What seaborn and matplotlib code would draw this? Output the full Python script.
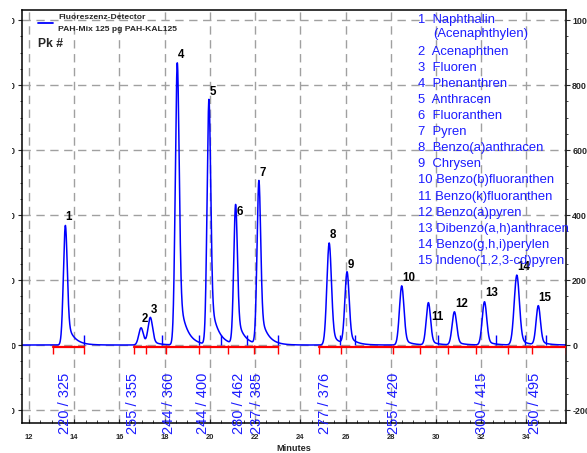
import numpy as np
import pandas as pd
import matplotlib
matplotlib.use('Agg')
import matplotlib.pyplot as plt
import matplotlib.transforms as mtransforms
from matplotlib.ticker import MultipleLocator
import seaborn as sns

# Peak table (retention time in min, height in signal units)
peak_no = list(range(1, 16))
peak_rt = [13.60, 16.95, 17.36, 18.55, 19.95, 21.13, 22.16, 25.27, 26.06,
           28.48, 29.66, 30.81, 32.14, 33.57, 34.52]
peak_height = [368, 53, 83, 868, 754, 429, 503, 314, 222, 182, 130, 102, 133, 215, 120]
peak_sigma = [0.085, 0.10, 0.10, 0.085, 0.08, 0.08, 0.08, 0.10, 0.095,
              0.10, 0.095, 0.10, 0.10, 0.115, 0.095]
peak_tail = [0.22, 0.15, 0.15, 0.22, 0.22, 0.22, 0.22, 0.15, 0.15,
             0.12, 0.12, 0.12, 0.12, 0.12, 0.12]

compounds = ['Naphthalin', 'Acenaphthen', 'Fluoren', 'Phenanthren', 'Anthracen',
             'Fluoranthen', 'Pyren', 'Benzo(a)anthracen', 'Chrysen',
             'Benzo(b)fluoranthen', 'Benzo(k)fluoranthen', 'Benzo(a)pyren',
             'Dibenzo(a,h)anthracen', 'Benzo(g,h,i)perylen', 'Indeno(1,2,3-cd)pyren']

# excitation / emission wavelength program
wl_times = [13.60, 16.62, 18.20, 19.70, 21.30, 22.07, 25.10, 28.16, 32.03, 34.36]
wl_labels = ['220 / 325', '255 / 355', '244 / 360', '244 / 400', '280 / 462',
             '237 / 385', '277 / 376', '255 / 420', '300 / 415', '250 / 495']

# integration marks
red_start = [13.08, 16.65, 24.81]
red_end = [14.45, 23.03, 35.75]
red_ticks = [13.08, 14.45, 16.65, 17.16, 18.05, 19.54, 20.80, 21.93, 23.03,
             24.81, 25.78, 28.09, 29.30, 30.54, 31.78, 33.19, 34.24, 35.75]
blue_ticks = [14.45, 17.86, 19.51, 20.48, 21.65, 23.03, 25.77, 26.42,
              30.08, 32.66, 33.95, 34.87]

# label offsets (points) for the peak numbers
lbl_dx = [0.4] * 15
lbl_dy = [6.0] * 15
lbl_dx[5], lbl_dy[5] = 1.2, -4.8
lbl_dx[10], lbl_dy[10] = 2.2, -10.0

# build the trace
t = np.linspace(11.69, 35.75, 4000)
signal = np.zeros_like(t)
for rt, h, s, a in zip(peak_rt, peak_height, peak_sigma, peak_tail):
    g = np.exp(-0.5 * ((t - rt) / s) ** 2)
    tail = np.exp(-np.clip(t - rt, 0, None) / 0.3) * 0.5 * (1 + np.tanh((t - rt) / s))
    shape = (1 - a) * g + a * tail
    signal += h * shape / shape.max()
trace_df = pd.DataFrame({'Minutes': t, 'Signal': signal})

sns.set_style('white')
plt.rcParams['font.family'] = ['Liberation Sans', 'DejaVu Sans']
plt.rcParams['axes.unicode_minus'] = False

BLUE = '#0000ff'
TXT_BLUE = '#1c1cff'
RED = '#ff0000'

fig = plt.figure(figsize=(5.87, 4.53), dpi=100)
ax = fig.add_axes([22 / 587, 30 / 453, 544 / 587, 413 / 453])

sns.lineplot(data=trace_df, x='Minutes', y='Signal', ax=ax, color=BLUE, lw=1.1,
             estimator=None, sort=False, legend=False)

# integration baseline + marks
for s0, s1 in zip(red_start, red_end):
    ax.plot([s0, s1], [-7, -7], color=RED, lw=1.6, zorder=3)
ax.vlines(red_ticks, -28, 0, color=RED, lw=1.0, zorder=3)
ax.vlines(blue_ticks, 0, 30, color=BLUE, lw=1.0, zorder=3)

# peak numbers
for n, rt, h, dx, dy in zip(peak_no, peak_rt, peak_height, lbl_dx, lbl_dy):
    ax.annotate(str(n), (rt, h), xytext=(dx, dy), textcoords='offset points',
                ha='left', va='center', fontsize=8.3, fontweight='bold', color='black')

# wavelength program labels
trans = mtransforms.blended_transform_factory(ax.transData, ax.transAxes)
for wt, wl in zip(wl_times, wl_labels):
    ax.text(wt, -0.027, wl, transform=trans, rotation=90, ha='center', va='bottom',
            fontsize=10.5, color=TXT_BLUE, clip_on=False)


def ypos(px):
    return 1 - (px - 10) / 413


def xpos(px):
    return (px - 22) / 544


# compound list
for i, (n, name) in enumerate(zip(peak_no, compounds)):
    line = i if i == 0 else i + 1
    sep = '  ' if n < 10 else ' '
    ax.text(xpos(418), ypos(20 + 16.05 * line), f'{n}{sep}{name}', transform=ax.transAxes,
            ha='left', va='center', fontsize=9.4, color=TXT_BLUE, clip_on=False)
    if i == 0:
        ax.text(xpos(433), ypos(20 + 16.05 * 0.9), '(Acenaphthylen)',
                transform=ax.transAxes, ha='left', va='center', fontsize=9.4, color=TXT_BLUE)

# detector legend
ax.plot([xpos(38), xpos(53)], [ypos(22.7), ypos(22.7)], color=BLUE, lw=1.3,
        transform=ax.transAxes)
ax.text(xpos(58), ypos(17.3), 'Fluoreszenz-Detector', transform=ax.transAxes,
        ha='left', va='center', fontsize=6.1, fontweight='bold')
ax.text(xpos(58), ypos(29.3), 'PAH-Mix 125 pg PAH-KAL125', transform=ax.transAxes,
        ha='left', va='center', fontsize=6.1, fontweight='bold')
ax.text(xpos(38), ypos(43.7), 'Pk #', transform=ax.transAxes, ha='left', va='center',
        fontsize=8.7, fontweight='bold')

# axes
ax.set_xlim(11.69, 35.75)
ax.set_ylim(-240, 1031)
ax.xaxis.set_major_locator(MultipleLocator(2))
ax.xaxis.set_minor_locator(MultipleLocator(0.5))
ax.yaxis.set_major_locator(MultipleLocator(200))
ax.yaxis.set_minor_locator(MultipleLocator(50))
ax.set_xlabel('Minutes', fontsize=6.6, fontweight='bold', labelpad=2)
ax.set_ylabel('')
ax.tick_params(axis='x', which='major', direction='in', length=3, width=0.8, pad=8,
               labelsize=5.4, bottom=True)
ax.tick_params(axis='x', which='minor', direction='in', length=2, width=0.6, bottom=True)
ax.tick_params(axis='y', which='major', direction='out', length=3, width=0.8, pad=3,
               labelsize=6.4, left=True, right=True, labelleft=True, labelright=True)
ax.tick_params(axis='y', which='major', pad=1.5, labelright=True)
ax.tick_params(axis='y', which='minor', direction='out', length=1.6, width=0.6,
               left=True, right=True)
for sp in ax.spines.values():
    sp.set_color('black')
    sp.set_linewidth(1.1)

ax.set_axisbelow(True)
ax.grid(True, which='major', color='#a0a0a0', lw=1.0, ls=(0, (6, 4)))

fig.canvas.draw()
for lab in ax.get_xticklabels():
    lab.set_fontweight('bold')
# left labels are cut by the frame of the original screenshot
left_clip = mtransforms.TransformedBbox(
    mtransforms.Bbox([[11.5 / 587, 0], [22 / 587, 1]]), fig.transFigure)
for tick in ax.yaxis.get_major_ticks():
    tick.label1.set_fontweight('bold')
    tick.label2.set_fontweight('bold')
    tick.label1.set_clip_on(True)
    tick.label1.set_clip_box(left_clip)
    tick.label1.set_horizontalalignment('right')

fig.savefig('out.png', dpi=100)
